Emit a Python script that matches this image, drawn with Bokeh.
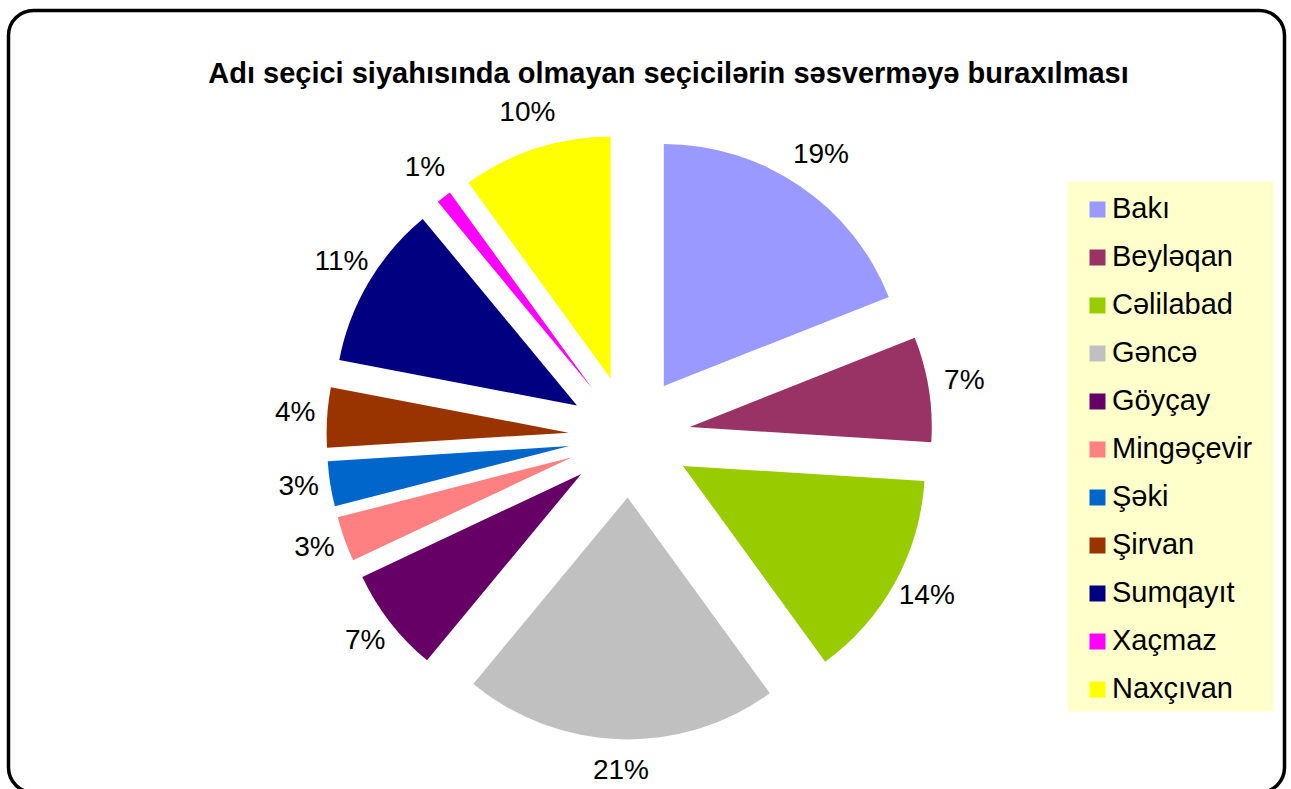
import math
from bokeh.plotting import figure
from bokeh.models import ColumnDataSource, Range1d, BoxAnnotation, Label
from bokeh.core.properties import value
from bokeh.embed import file_html
from bokeh.resources import INLINE

# ---- data ----
regions = ["Bakı", "Beyləqan", "Cəlilabad", "Gəncə", "Göyçay", "Mingəçevir",
           "Şəki", "Şirvan", "Sumqayıt", "Xaçmaz", "Naxçıvan"]
percents = [19, 7, 14, 21, 7, 3, 3, 4, 11, 1, 10]
colors = ["#9999FF", "#993366", "#99CC00", "#C0C0C0", "#660066", "#FF8080",
          "#0066CC", "#993300", "#000080", "#FF00FF", "#FFFF00"]
title_text = "Adı seçici siyahısında olmayan seçicilərin səsverməyə buraxılması"

W, H = 1291, 789
FONT = "Liberation Sans"

# ---- layout (pixels, y measured from the bottom) ----
cx, cy = 629, H - 436      # pie centre
radius = 242
explode = 61
lcx, lcy = 631, H - 432    # centre used for the percentage labels
label_r = 337

total = sum(percents)
starts, ends, xs, ys, lx, ly, texts = [], [], [], [], [], [], []
cum = 0.0
for v in percents:
    a0 = math.pi / 2 - 2 * math.pi * cum / total
    cum += v
    a1 = math.pi / 2 - 2 * math.pi * cum / total
    mid = (a0 + a1) / 2
    starts.append(a0)
    ends.append(a1)
    xs.append(cx + explode * math.cos(mid))
    ys.append(cy + explode * math.sin(mid))
    lx.append(lcx + label_r * math.cos(mid))
    ly.append(lcy + label_r * math.sin(mid))
    texts.append(f"{v}%")

src = ColumnDataSource(dict(name=regions, x=xs, y=ys, start=starts, end=ends,
                            color=colors, lx=lx, ly=ly, text=texts))

p = figure(width=W, height=H, output_backend="svg", toolbar_location=None,
           x_range=Range1d(0, W), y_range=Range1d(0, H), min_border=0,
           background_fill_color="white", border_fill_color="white")
p.axis.visible = False
p.grid.visible = False
p.outline_line_color = None

# legend background
leg_bg = BoxAnnotation(left=1067, right=1273, top=H - 181, bottom=H - 711,
                       fill_color="#FFFFCC", fill_alpha=1, line_color=None,
                       level="underlay")
p.add_layout(leg_bg)

p.wedge(x="x", y="y", radius=radius, start_angle="start", end_angle="end",
        direction="clock", fill_color="color", line_color=None, source=src,
        legend_field="name")

p.text(x="lx", y="ly", text="text", source=src, text_align="center",
       text_baseline="middle", text_font=value(FONT), text_font_size="28px",
       text_color="black")

title = Label(x=668, y=H - 72, text=title_text, text_align="center",
              text_baseline="middle", text_font=FONT, text_font_style="bold",
              text_font_size="29px", text_color="black")
p.add_layout(title)

leg = p.legend[0]
leg.location = (1087, 84)
leg.margin = 0
leg.padding = 0
leg.background_fill_alpha = 0
leg.border_line_color = None
leg.glyph_width = 20
leg.glyph_height = 20
leg.label_standoff = 5
leg.label_text_font = FONT
leg.label_text_font_size = "29px"
leg.label_text_color = "black"
leg.spacing = 15

frame = BoxAnnotation(left=8, right=1284, top=H - 10, bottom=-3,
                      border_radius=25, fill_alpha=0, line_color="black",
                      line_alpha=1, line_width=3.5)
p.add_layout(frame)

open("out.html", "w").write(file_html(p, INLINE))
